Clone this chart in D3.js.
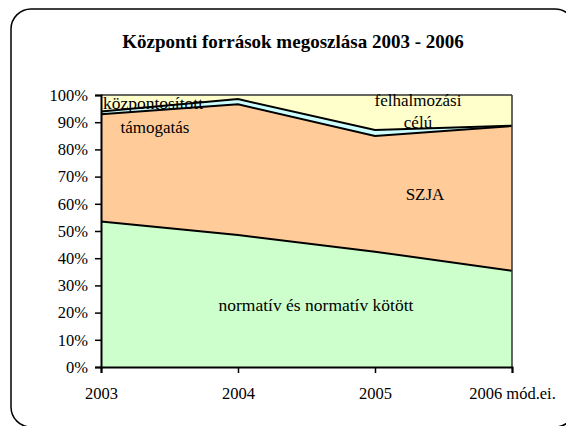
<!DOCTYPE html>
<html><head><meta charset="utf-8">
<script src="https://cdn.jsdelivr.net/npm/d3@7"></script>
<style>body{margin:0;background:#fff}svg{display:block}</style>
</head><body>
<svg id="c" width="566" height="426"></svg>
<script>
const categories = ["2003", "2004", "2005", "2006 mód.ei."];
const normativ = [53.5, 48.5, 42.4, 35.4];
const szja = [39.4, 48.1, 42.5, 53.2];
const kozpontositott = [1.0, 1.9, 2.2, 0.1];
const felhalmozasi = [6.1, 1.5, 12.9, 11.3];
const yTicks = [0,10,20,30,40,50,60,70,80,90,100];
const seriesNames = ["normatív", "SZJA", "központosított", "felhalmozási"];
const colors = ["#CCFFCC", "#FFCC99", "#CCFFFF", "#FFFFCC"];
const FONT = "Liberation Serif";

const svg = d3.select("#c");

svg.append("rect").attr("x",11).attr("y",9).attr("width",564).attr("height",418)
  .attr("rx",20).attr("fill","#fff").attr("stroke","#000").attr("stroke-width",1.5);

svg.append("text").attr("x",293).attr("y",48).attr("text-anchor","middle")
  .attr("font-family",FONT).attr("font-weight","bold").attr("font-size",19)
  .text("Központi források megoszlása 2003 - 2006");

const x = d3.scalePoint().domain(categories).range([101,512]);
const y = d3.scaleLinear().domain([0,100]).range([367,95]);

const table = categories.map((c,i)=>({cat:c, "normatív":normativ[i], "SZJA":szja[i], "központosított":kozpontositott[i], "felhalmozási":felhalmozasi[i]}));
const stack = d3.stack().keys(seriesNames).offset(d3.stackOffsetExpand)(table);

const area = d3.area().x(d=>x(d.data.cat)).y0(d=>y(d[0]*100)).y1(d=>y(d[1]*100));
const line = d3.line().x(d=>x(d.data.cat)).y(d=>y(d[1]*100));

const g = svg.append("g");
g.selectAll("path.a").data(stack).join("path").attr("class","a")
  .attr("d",area).attr("fill",(d,i)=>colors[i]).attr("stroke","none");
g.selectAll("path.l").data(stack.slice(0,3)).join("path").attr("class","l")
  .attr("d",line).attr("fill","none").attr("stroke","#000").attr("stroke-width",2);

svg.append("line").attr("x1",101).attr("x2",512).attr("y1",y(100)).attr("y2",y(100)).attr("stroke","#333").attr("stroke-width",1.5);
svg.append("line").attr("x1",512).attr("x2",512).attr("y1",y(100)).attr("y2",y(0)).attr("stroke","#333").attr("stroke-width",1.5);

const yAxis = svg.append("g").attr("transform","translate(101,0)")
  .call(d3.axisLeft(y).tickValues(yTicks).tickFormat(d=>d+"%").tickSize(6).tickPadding(7));
const xAxis = svg.append("g").attr("transform",`translate(0,${y(0)})`)
  .call(d3.axisBottom(x).tickSize(6).tickPadding(11));
[yAxis,xAxis].forEach(a=>{
  a.attr("font-family",FONT).attr("font-size",16.5);
  a.selectAll("path,line").attr("stroke","#000").attr("stroke-width",1.5);
  a.select(".domain").attr("stroke-width",2);
  a.selectAll("text").attr("fill","#000");
});
xAxis.selectAll("text").attr("dy","0.9em");

const labels = [
  {t:"központosított", x:153, y:109, s:17.5},
  {t:"támogatás", x:155, y:133, s:17},
  {t:"felhalmozási", x:418, y:106, s:17},
  {t:"célú", x:418, y:128, s:17},
  {t:"SZJA", x:425, y:200, s:17},
  {t:"normatív és normatív kötött", x:316, y:311, s:17.5}
];
svg.selectAll("text.lab").data(labels).join("text").attr("class","lab")
  .attr("x",d=>d.x).attr("y",d=>d.y).attr("text-anchor","middle")
  .attr("font-family",FONT).attr("font-size",d=>d.s).attr("fill","#000").text(d=>d.t);
</script>
</body></html>
